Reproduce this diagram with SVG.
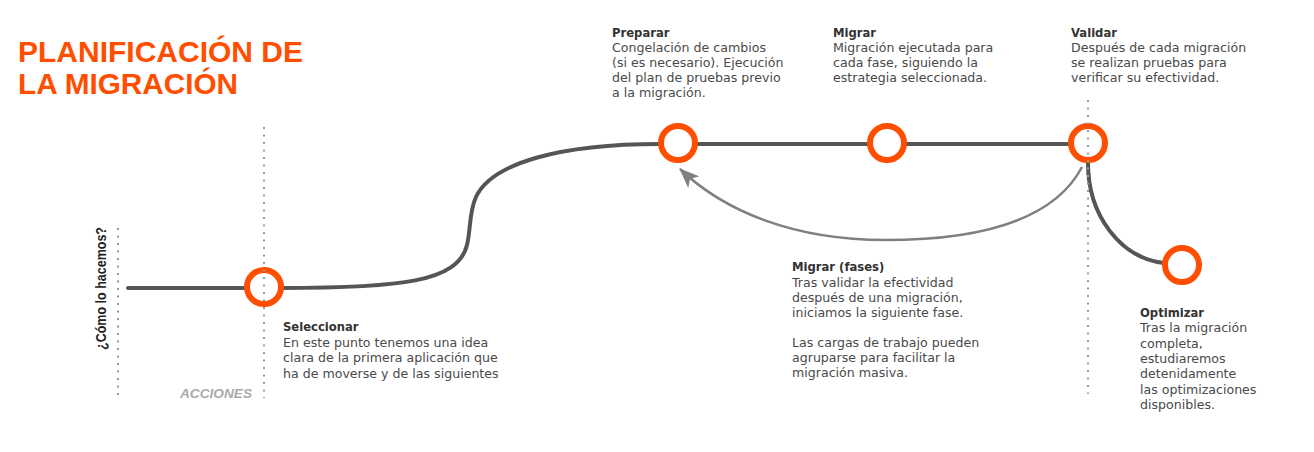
<svg xmlns="http://www.w3.org/2000/svg" width="1314" height="452" viewBox="0 0 1314 452">
  <style>
    .title { font-family: "Liberation Sans", Arial, sans-serif; font-weight: bold; font-size: 30px; fill: #FF4E00; }
    .h { font-family: "DejaVu Sans", sans-serif; font-weight: bold; font-size: 11.6px; fill: #333333; }
    .b { font-family: "DejaVu Sans", sans-serif; font-size: 12.6px; fill: #4a4a4a; }
    .dot { stroke: #9a9a9a; stroke-width: 2; stroke-dasharray: 2 5.5; fill: none; }
    .node { fill: #ffffff; stroke: #FF4E00; stroke-width: 6; }
    .main { fill: none; stroke: #555555; stroke-width: 4; stroke-linecap: round; }
    .loop { fill: none; stroke: #808080; stroke-width: 2.5; }
  </style>
  <defs>
    <marker id="arr" viewBox="0 0 20 16" refX="19" refY="8" markerWidth="20" markerHeight="16" markerUnits="userSpaceOnUse" orient="auto">
      <path d="M0,0 L20,8 L0,16 L5,8 z" fill="#808080"/>
    </marker>
  </defs>
  <rect width="1314" height="452" fill="#ffffff"/>

  <g id="title">
    <text class="title" x="18" y="62" textLength="285" lengthAdjust="spacingAndGlyphs">PLANIFICACIÓN DE</text>
    <text class="title" x="18" y="94" textLength="220" lengthAdjust="spacingAndGlyphs">LA MIGRACIÓN</text>
  </g>

  <g id="axis">
    <text transform="translate(106,350) rotate(-90)" font-family="Liberation Sans, Arial, sans-serif" font-weight="bold" font-size="14" fill="#222222" textLength="123" lengthAdjust="spacingAndGlyphs">¿Cómo lo hacemos?</text>
    <text x="180" y="398" font-family="Liberation Sans, Arial, sans-serif" font-weight="bold" font-style="italic" font-size="12" fill="#aaaaaa" textLength="72" lengthAdjust="spacingAndGlyphs">ACCIONES</text>
  </g>

  <g id="connectors">
    <line class="main" x1="128" y1="288" x2="247" y2="288"/>
    <path class="main" d="M 281 288 C 400 288, 458 282, 467 245 C 471 228, 469 212, 476 197 C 492 163, 560 144, 660 144"/>
    <line class="main" x1="660" y1="144" x2="1070" y2="144"/>
    <path class="main" d="M 1088 163 C 1088 215, 1120 258, 1164 263"/>
    <path class="loop" d="M 1082 167 C 1050 228, 960 240, 885 240 C 795 240, 725 212, 680 169" marker-end="url(#arr)"/>
  </g>

  <g id="node-seleccionar">
    <circle class="node" cx="264" cy="287" r="17"/>
    <text class="h" x="283" y="331">Seleccionar</text>
    <text class="b" x="283" y="346.5">En este punto tenemos una idea</text>
    <text class="b" x="283" y="362">clara de la primera aplicación que</text>
    <text class="b" x="283" y="377.5">ha de moverse y de las siguientes</text>
  </g>

  <g id="node-preparar">
    <circle class="node" cx="678" cy="143" r="17"/>
    <text class="h" x="612" y="37">Preparar</text>
    <text class="b" x="612" y="52">Congelación de cambios</text>
    <text class="b" x="612" y="67">(si es necesario). Ejecución</text>
    <text class="b" x="612" y="82">del plan de pruebas previo</text>
    <text class="b" x="612" y="97">a la migración.</text>
  </g>

  <g id="node-migrar">
    <circle class="node" cx="887" cy="143" r="17"/>
    <text class="h" x="833" y="37">Migrar</text>
    <text class="b" x="833" y="52">Migración ejecutada para</text>
    <text class="b" x="833" y="67">cada fase, siguiendo la</text>
    <text class="b" x="833" y="82">estrategia seleccionada.</text>
  </g>

  <g id="node-validar">
    <circle class="node" cx="1088" cy="143" r="17"/>
    <text class="h" x="1071" y="37">Validar</text>
    <text class="b" x="1071" y="52">Después de cada migración</text>
    <text class="b" x="1071" y="67">se realizan pruebas para</text>
    <text class="b" x="1071" y="82">verificar su efectividad.</text>
  </g>

  <g id="node-optimizar">
    <circle class="node" cx="1182" cy="265" r="17"/>
    <text class="h" x="1140" y="317">Optimizar</text>
    <text class="b" x="1140" y="332.3">Tras la migración</text>
    <text class="b" x="1140" y="347.6">completa,</text>
    <text class="b" x="1140" y="362.9">estudiaremos</text>
    <text class="b" x="1140" y="378.2">detenidamente</text>
    <text class="b" x="1140" y="393.5">las optimizaciones</text>
    <text class="b" x="1140" y="408.8">disponibles.</text>
  </g>

  <g id="label-migrar-fases">
    <text class="h" x="792" y="271">Migrar (fases)</text>
    <text class="b" x="792" y="287">Tras validar la efectividad</text>
    <text class="b" x="792" y="302">después de una migración,</text>
    <text class="b" x="792" y="317">iniciamos la siguiente fase.</text>
    <text class="b" x="792" y="347">Las cargas de trabajo pueden</text>
    <text class="b" x="792" y="362">agruparse para facilitar la</text>
    <text class="b" x="792" y="377">migración masiva.</text>
  </g>

  <g id="guides">
    <line class="dot" x1="118" y1="228" x2="118" y2="398"/>
    <line class="dot" x1="264" y1="127" x2="264" y2="398"/>
    <line class="dot" x1="1088" y1="100" x2="1088" y2="394"/>
  </g>
</svg>
